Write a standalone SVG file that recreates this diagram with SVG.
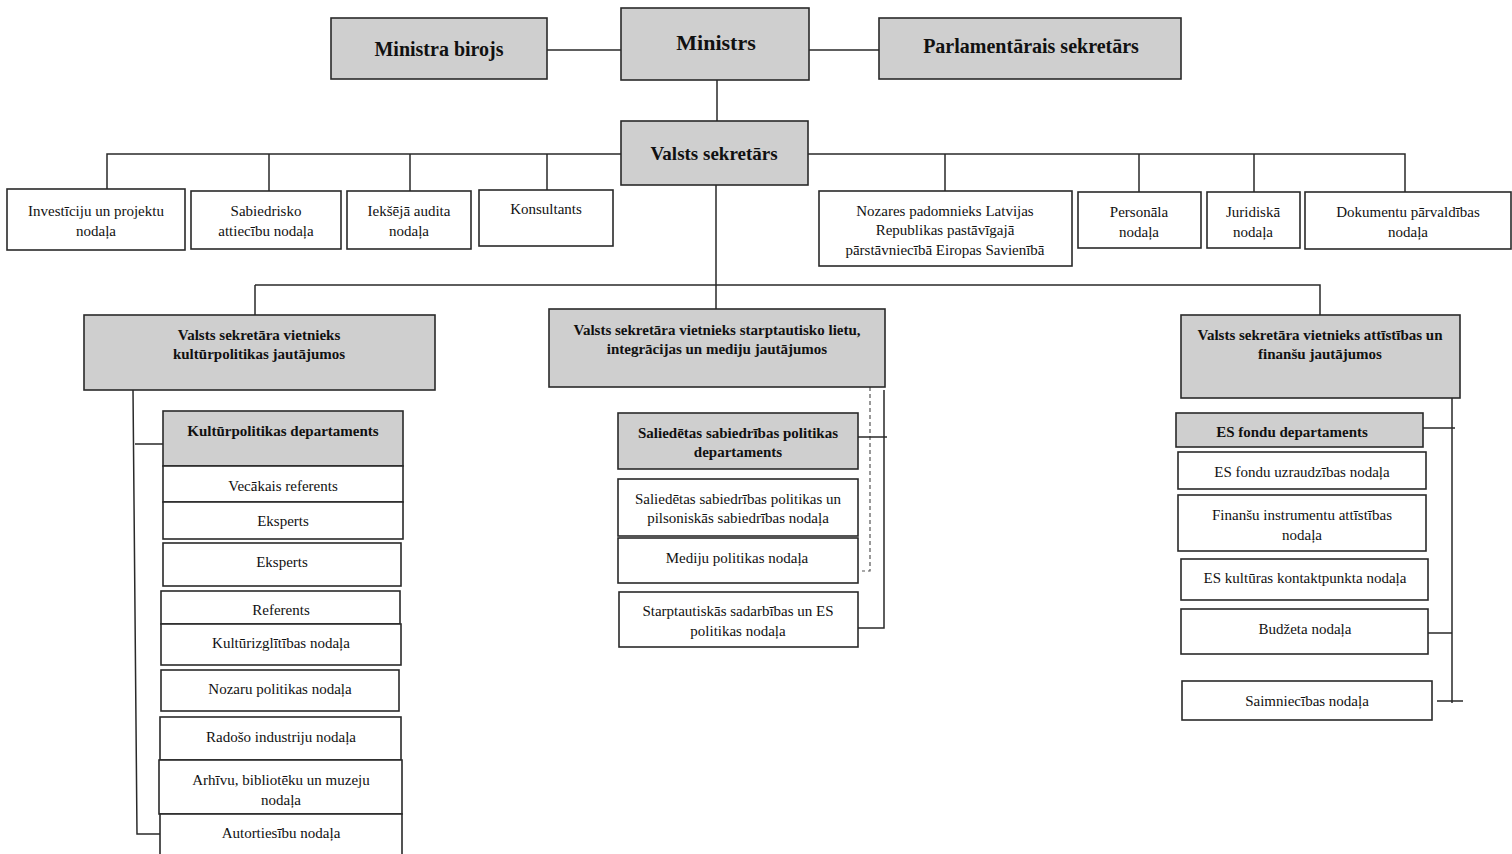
<svg xmlns="http://www.w3.org/2000/svg" width="1512" height="854" viewBox="0 0 1512 854">
<style>
.g{fill:#cfcfcf;stroke:#2a2a2a;stroke-width:1.6}
.w{fill:#fff;stroke:#2a2a2a;stroke-width:1.6}
text{font-family:"Liberation Serif","Times New Roman",serif;fill:#111;text-anchor:middle}
.t{font-size:15px}
.b{font-size:15px;font-weight:bold}
.L{font-size:20px;font-weight:bold}
.c{stroke:#2a2a2a;stroke-width:1.5;fill:none}
.d{stroke:#555;stroke-width:1.2;fill:none;stroke-dasharray:4 3}
</style>
<rect width="1512" height="854" fill="#fff"/>
<g id="connectors">
<path class="c" d="M547 50H621M809 50H879M717 80V121"/>
<path class="c" d="M621 154H107V189M269 154V191M410 154V191M547 154V190"/>
<path class="c" d="M808 154H1405V192M945 154V191M1139 154V192M1254 154V192"/>
<path class="c" d="M716 185V285M255 285H1320V315M255 285V315M716 285V309"/>
<path class="c" d="M133 390L137 834H160M135 444H163"/>
<path class="d" d="M870 387V571H862"/>
<path class="c" d="M884 390V628H858M858 437H887"/>
<path class="c" d="M1452 398V703M1423 428H1455M1428 633H1452M1437 701H1463"/>
</g>
<g id="ministra-birojs"><rect class="g" x="331" y="18" width="216" height="61"/><text class="L" x="439" y="56">Ministra birojs</text></g>
<g id="ministrs"><rect class="g" x="621" y="8" width="188" height="72"/><text x="716" y="50" style="font-size:22px;font-weight:bold">Ministrs</text></g>
<g id="parlamentarais"><rect class="g" x="879" y="18" width="302" height="61"/><text class="L" x="1031" y="53">Parlamentārais sekretārs</text></g>
<g id="valsts-sekretars"><rect class="g" x="621" y="121" width="187" height="64"/><text x="714" y="160" style="font-size:19px;font-weight:bold">Valsts sekretārs</text></g>

<g id="investiciju"><rect class="w" x="7" y="189" width="178" height="61"/><text class="t" x="96" y="216">Investīciju un projektu</text><text class="t" x="96" y="236">nodaļa</text></g>
<g id="sabiedrisko"><rect class="w" x="191" y="191" width="150" height="58"/><text class="t" x="266" y="216">Sabiedrisko</text><text class="t" x="266" y="236">attiecību nodaļa</text></g>
<g id="audita"><rect class="w" x="347" y="191" width="124" height="58"/><text class="t" x="409" y="216">Iekšējā audita</text><text class="t" x="409" y="236">nodaļa</text></g>
<g id="konsultants"><rect class="w" x="479" y="190" width="134" height="56"/><text class="t" x="546" y="214">Konsultants</text></g>
<g id="nozares"><rect class="w" x="819" y="191" width="253" height="75"/><text class="t" x="945" y="216">Nozares padomnieks Latvijas</text><text class="t" x="945" y="235">Republikas pastāvīgajā</text><text class="t" x="945" y="255">pārstāvniecībā Eiropas Savienībā</text></g>
<g id="personala"><rect class="w" x="1078" y="192" width="123" height="56"/><text class="t" x="1139" y="217">Personāla</text><text class="t" x="1139" y="237">nodaļa</text></g>
<g id="juridiska"><rect class="w" x="1207" y="192" width="93" height="56"/><text class="t" x="1253" y="217">Juridiskā</text><text class="t" x="1253" y="237">nodaļa</text></g>
<g id="dokumentu"><rect class="w" x="1305" y="192" width="206" height="57"/><text class="t" x="1408" y="217">Dokumentu pārvaldības</text><text class="t" x="1408" y="237">nodaļa</text></g>

<g id="vietnieks-kultur"><rect class="g" x="84" y="315" width="351" height="75"/><text class="b" x="259" y="340">Valsts sekretāra vietnieks</text><text class="b" x="259" y="359">kultūrpolitikas jautājumos</text></g>
<g id="vietnieks-starpt"><rect class="g" x="549" y="309" width="336" height="78"/><text class="b" x="717" y="335">Valsts sekretāra vietnieks starptautisko lietu,</text><text class="b" x="717" y="354">integrācijas un mediju jautājumos</text></g>
<g id="vietnieks-fin"><rect class="g" x="1181" y="315" width="279" height="83"/><text class="b" x="1320" y="340">Valsts sekretāra vietnieks attīstības un</text><text class="b" x="1320" y="359">finanšu jautājumos</text></g>

<g id="kulturpolitikas-dep"><rect class="g" x="163" y="411" width="240" height="55"/><text class="b" x="283" y="436">Kultūrpolitikas departaments</text></g>
<g id="vecakais"><rect class="w" x="163" y="466" width="240" height="36"/><text class="t" x="283" y="491">Vecākais referents</text></g>
<g id="eksperts1"><rect class="w" x="163" y="502" width="240" height="37"/><text class="t" x="283" y="526">Eksperts</text></g>
<g id="eksperts2"><rect class="w" x="163" y="543" width="238" height="43"/><text class="t" x="282" y="567">Eksperts</text></g>
<g id="referents"><rect class="w" x="161" y="591" width="239" height="33"/><text class="t" x="281" y="615">Referents</text></g>
<g id="kulturizglitibas"><rect class="w" x="161" y="624" width="240" height="41"/><text class="t" x="281" y="648">Kultūrizglītības nodaļa</text></g>
<g id="nozaru"><rect class="w" x="161" y="670" width="238" height="41"/><text class="t" x="280" y="694">Nozaru politikas nodaļa</text></g>
<g id="radoso"><rect class="w" x="160" y="717" width="241" height="43"/><text class="t" x="281" y="742">Radošo industriju nodaļa</text></g>
<g id="arhivu"><rect class="w" x="159" y="760" width="243" height="54"/><text class="t" x="281" y="785">Arhīvu, bibliotēku un muzeju</text><text class="t" x="281" y="805">nodaļa</text></g>
<g id="autortiesibu"><rect class="w" x="160" y="814" width="242" height="50"/><text class="t" x="281" y="838">Autortiesību nodaļa</text></g>

<g id="saliedetas-dep"><rect class="g" x="618" y="413" width="240" height="56"/><text class="b" x="738" y="438">Saliedētas sabiedrības politikas</text><text class="b" x="738" y="457">departaments</text></g>
<g id="saliedetas-nod"><rect class="w" x="618" y="479" width="240" height="57"/><text class="t" x="738" y="504">Saliedētas sabiedrības politikas un</text><text class="t" x="738" y="523">pilsoniskās sabiedrības nodaļa</text></g>
<g id="mediju"><rect class="w" x="618" y="538" width="240" height="45"/><text class="t" x="737" y="563">Mediju politikas nodaļa</text></g>
<g id="starptautiskas"><rect class="w" x="619" y="592" width="239" height="55"/><text class="t" x="738" y="616">Starptautiskās sadarbības un ES</text><text class="t" x="738" y="636">politikas nodaļa</text></g>

<g id="es-fondu-dep"><rect class="g" x="1176" y="413" width="247" height="34"/><text class="b" x="1292" y="437">ES fondu departaments</text></g>
<g id="es-uzraudzibas"><rect class="w" x="1178" y="452" width="248" height="37"/><text class="t" x="1302" y="477">ES fondu uzraudzības nodaļa</text></g>
<g id="finansu"><rect class="w" x="1178" y="495" width="248" height="56"/><text class="t" x="1302" y="520">Finanšu instrumentu attīstības</text><text class="t" x="1302" y="540">nodaļa</text></g>
<g id="es-kulturas"><rect class="w" x="1181" y="559" width="247" height="41"/><text class="t" x="1305" y="583">ES kultūras kontaktpunkta nodaļa</text></g>
<g id="budzeta"><rect class="w" x="1181" y="609" width="247" height="45"/><text class="t" x="1305" y="634">Budžeta nodaļa</text></g>
<g id="saimniecibas"><rect class="w" x="1182" y="681" width="250" height="39"/><text class="t" x="1307" y="706">Saimniecības nodaļa</text></g>
</svg>
